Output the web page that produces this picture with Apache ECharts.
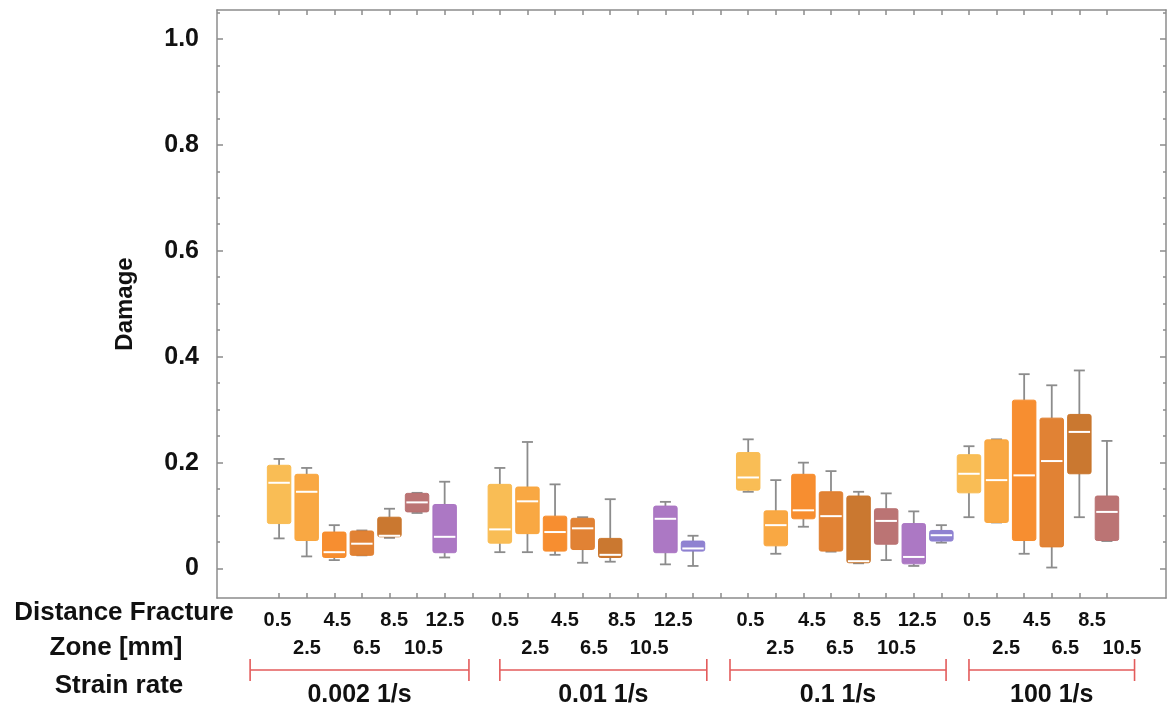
<!DOCTYPE html>
<html>
<head>
<meta charset="utf-8">
<title>Damage vs distance from fracture zone</title>
<script src="https://cdn.jsdelivr.net/npm/echarts@6/dist/echarts.min.js"></script>
<style>
  html, body { margin: 0; padding: 0; background: #ffffff; }
  #chart { width: 1167px; height: 711px; }
</style>
</head>
<body>
<div id="chart"></div>
<script>
// ---- data -------------------------------------------------------------
const strainRates = ['0.002 1/s', '0.01 1/s', '0.1 1/s', '100 1/s'];
const distanceLabels = ['0.5', '2.5', '4.5', '6.5', '8.5', '10.5', '12.5'];

// slot of each box on the x scale (one slot per distance, gaps between groups)
const slots002 = [0, 1, 2, 3, 4, 5, 6];
const slots001 = [8, 9, 10, 11, 12, 14, 15];
const slots01 = [17, 18, 19, 20, 21, 22, 23, 24];
const slots100 = [25, 26, 27, 28, 29, 30];
const groupFirstSlot = [0, 8, 17, 25];

// box statistics: [min, Q1, median, Q3, max]
const stats002 = [
  [0.057, 0.085, 0.162, 0.195, 0.207],
  [0.023, 0.053, 0.145, 0.178, 0.190],
  [0.016, 0.021, 0.031, 0.069, 0.082],
  [0.025, 0.025, 0.047, 0.071, 0.072],
  [0.058, 0.060, 0.062, 0.097, 0.113],
  [0.105, 0.107, 0.125, 0.142, 0.143],
  [0.021, 0.030, 0.060, 0.121, 0.164]
];
const stats001 = [
  [0.031, 0.048, 0.074, 0.159, 0.190],
  [0.031, 0.066, 0.127, 0.154, 0.239],
  [0.026, 0.033, 0.069, 0.099, 0.159],
  [0.011, 0.036, 0.076, 0.095, 0.097],
  [0.013, 0.021, 0.026, 0.057, 0.131],
  [0.008, 0.030, 0.094, 0.118, 0.126],
  [0.005, 0.033, 0.038, 0.052, 0.062]
];
const stats01 = [
  [0.145, 0.148, 0.172, 0.219, 0.244],
  [0.028, 0.043, 0.082, 0.109, 0.167],
  [0.079, 0.094, 0.110, 0.178, 0.200],
  [0.032, 0.033, 0.099, 0.145, 0.184],
  [0.010, 0.011, 0.014, 0.137, 0.145],
  [0.016, 0.046, 0.090, 0.113, 0.142],
  [0.005, 0.009, 0.022, 0.085, 0.108],
  [0.049, 0.052, 0.063, 0.072, 0.082]
];
const stats100 = [
  [0.097, 0.143, 0.179, 0.215, 0.231],
  [0.087, 0.087, 0.167, 0.243, 0.244],
  [0.028, 0.053, 0.176, 0.318, 0.367],
  [0.002, 0.041, 0.203, 0.284, 0.346],
  [0.097, 0.179, 0.258, 0.291, 0.374],
  [0.052, 0.053, 0.107, 0.137, 0.241]
];

// extent of each strain-rate bracket, in slots
const bracketStart = [-1.05, 8.0, 16.34, 25.0];
const bracketEnd = [6.88, 15.5, 24.17, 31.0];

// y tick values
const yMajorTicks = [0, 0.2, 0.4, 0.6, 0.8, 1.0];

// ---- layout & style ---------------------------------------------------
const palette = ['#f9bb50', '#f9a53d', '#f78a29', '#e07e2d', '#c87429',
                 '#b96f6f', '#a974c2', '#8b7ecf'];
const FONT = '"Liberation Sans", Arial, Helvetica, sans-serif';
const AXIS_GREY = '#8c8c8c';
const X_MIN = -2.25, X_MAX = 32.14;
const Y_MIN = -0.0555, Y_MAX = 1.0544;

// where the distance labels sit along the axis (two staggered rows)
const row1Pos = [-0.06, 2.11, 4.17, 6.01, 8.19, 10.36, 12.42, 14.28,
                 17.08, 19.31, 21.30, 23.12, 25.29, 27.46, 29.46];
const row2Pos = [1.01, 3.18, 5.23, 9.28, 11.41, 13.41,
                 18.16, 20.32, 22.37, 26.35, 28.49, 30.54];
const groupLabelCount = [7, 7, 7, 6];

const row1Text = [], row2Text = [];
groupLabelCount.forEach(function (n) {
  for (let i = 0; i < n; i++) {
    (i % 2 === 0 ? row1Text : row2Text).push(distanceLabels[i]);
  }
});
const row1Map = {}, row2Map = {};
row1Pos.forEach(function (p, i) { row1Map[p.toFixed(2)] = row1Text[i]; });
row2Pos.forEach(function (p, i) { row2Map[p.toFixed(2)] = row2Text[i]; });

const slotTicks = [];
for (let s = 0; s <= 30; s++) slotTicks.push(s);
const yMinorTicks = [];
for (let i = 1; i <= 21; i++) {
  const v = +(i * 0.05).toFixed(2);
  if (Math.abs(v * 5 - Math.round(v * 5)) > 1e-6) yMinorTicks.push(v);
}

// rows for the box series: [slot, min, Q1, median, Q3, max, colour]
const boxRows = [];
[[slots002, stats002], [slots001, stats001], [slots01, stats01], [slots100, stats100]]
  .forEach(function (g, gi) {
    g[0].forEach(function (slot, i) {
      boxRows.push([slot].concat(g[1][i], [slot - groupFirstSlot[gi]]));
    });
  });

const bracketRows = strainRates.map(function (_, i) {
  return [bracketStart[i], bracketEnd[i], i];
});

function renderBox(params, api) {
  const x = api.value(0);
  const lo = api.coord([x, api.value(1)]);
  const q1 = api.coord([x, api.value(2)]);
  const md = api.coord([x, api.value(3)]);
  const q3 = api.coord([x, api.value(4)]);
  const hi = api.coord([x, api.value(5)]);
  const color = palette[api.value(6)];
  const w = api.size([1, 0])[0] * 0.85;
  const cap = 11;
  const cx = lo[0];
  const wStyle = { stroke: AXIS_GREY, lineWidth: 1.8 };
  return {
    type: 'group',
    children: [
      { type: 'line', shape: { x1: cx, y1: hi[1], x2: cx, y2: q3[1] }, style: wStyle },
      { type: 'line', shape: { x1: cx, y1: q1[1], x2: cx, y2: lo[1] }, style: wStyle },
      { type: 'line', shape: { x1: cx - cap / 2, y1: hi[1], x2: cx + cap / 2, y2: hi[1] }, style: wStyle },
      { type: 'line', shape: { x1: cx - cap / 2, y1: lo[1], x2: cx + cap / 2, y2: lo[1] }, style: wStyle },
      { type: 'rect',
        shape: { x: cx - w / 2, y: q3[1], width: w, height: Math.max(q1[1] - q3[1], 1), r: 2 },
        style: { fill: color, stroke: color, lineWidth: 1, opacity: 0.97 } },
      { type: 'line', shape: { x1: cx - w / 2 + 1, y1: md[1], x2: cx + w / 2 - 1, y2: md[1] },
        style: { stroke: '#ffffff', lineWidth: 2 } }
    ]
  };
}

function renderBracket(params, api) {
  const a = api.coord([api.value(0), Y_MIN]);
  const b = api.coord([api.value(1), Y_MIN]);
  const y = a[1] + 72;
  const red = '#e35b5b';
  const s = { stroke: red, lineWidth: 1.6 };
  return {
    type: 'group',
    children: [
      { type: 'line', shape: { x1: a[0], y1: y, x2: b[0], y2: y }, style: s },
      { type: 'line', shape: { x1: a[0], y1: y - 11, x2: a[0], y2: y + 11 }, style: s },
      { type: 'line', shape: { x1: b[0], y1: y - 11, x2: b[0], y2: y + 11 }, style: s },
      { type: 'text',
        style: { text: strainRates[api.value(2)], x: (a[0] + b[0]) / 2, y: y + 25,
                 font: 'bold 25px ' + FONT, fill: '#111111',
                 align: 'center', verticalAlign: 'middle' } }
    ]
  };
}

const lineStyle = { color: AXIS_GREY, width: 1.5 };
const frameLine = { show: true, onZero: false, lineStyle: lineStyle };
const noLine = { show: false, onZero: false };

const chart = echarts.init(document.getElementById('chart'));
chart.setOption({
  animation: false,
  backgroundColor: '#ffffff',
  grid: { left: 217, top: 10, width: 949, height: 588, containLabel: false, outerBoundsMode: 'none' },
  xAxis: [
    { type: 'value', position: 'bottom', min: X_MIN, max: X_MAX,
      axisLine: frameLine,
      axisTick: { show: true, inside: true, length: 5, customValues: slotTicks, lineStyle: lineStyle },
      axisLabel: { show: false }, splitLine: { show: false } },
    { type: 'value', position: 'top', min: X_MIN, max: X_MAX,
      axisLine: frameLine,
      axisTick: { show: true, inside: true, length: 5, customValues: slotTicks, lineStyle: lineStyle },
      axisLabel: { show: false }, splitLine: { show: false } },
    { type: 'value', position: 'bottom', min: X_MIN, max: X_MAX,
      axisLine: noLine, axisTick: { show: false }, splitLine: { show: false },
      axisLabel: { show: true, customValues: row1Pos, margin: 12,
        fontFamily: FONT, fontWeight: 'bold', fontSize: 20, color: '#111111',
        formatter: function (v) { return row1Map[v.toFixed(2)] || ''; } } },
    { type: 'value', position: 'bottom', min: X_MIN, max: X_MAX,
      axisLine: noLine, axisTick: { show: false }, splitLine: { show: false },
      axisLabel: { show: true, customValues: row2Pos, margin: 40,
        fontFamily: FONT, fontWeight: 'bold', fontSize: 20, color: '#111111',
        formatter: function (v) { return row2Map[v.toFixed(2)] || ''; } } }
  ],
  yAxis: [
    { type: 'value', position: 'left', min: Y_MIN, max: Y_MAX,
      name: 'Damage', nameLocation: 'middle', nameGap: 80, nameRotate: 90,
      nameTextStyle: { fontFamily: FONT, fontWeight: 'bold', fontSize: 24, color: '#111111' },
      axisLine: frameLine,
      axisTick: { show: true, inside: true, length: 6, customValues: yMajorTicks, lineStyle: lineStyle },
      axisLabel: { show: true, customValues: yMajorTicks, margin: 18,
        fontFamily: FONT, fontWeight: 'bold', fontSize: 25, color: '#111111',
        formatter: function (v) { return Math.abs(v) < 1e-9 ? '0' : v.toFixed(1); } },
      splitLine: { show: false } },
    { type: 'value', position: 'left', min: Y_MIN, max: Y_MAX,
      axisLine: noLine, axisLabel: { show: false }, splitLine: { show: false },
      axisTick: { show: true, inside: true, length: 3, customValues: yMinorTicks, lineStyle: lineStyle } },
    { type: 'value', position: 'right', min: Y_MIN, max: Y_MAX,
      axisLine: frameLine, axisLabel: { show: false }, splitLine: { show: false },
      axisTick: { show: true, inside: true, length: 6, customValues: yMajorTicks, lineStyle: lineStyle } },
    { type: 'value', position: 'right', min: Y_MIN, max: Y_MAX,
      axisLine: noLine, axisLabel: { show: false }, splitLine: { show: false },
      axisTick: { show: true, inside: true, length: 3, customValues: yMinorTicks, lineStyle: lineStyle } }
  ],
  graphic: [
    { type: 'text', x: 124, y: 613,
      style: { text: 'Distance Fracture', font: 'bold 26px ' + FONT, fill: '#111111',
               align: 'center', verticalAlign: 'middle' } },
    { type: 'text', x: 116, y: 648,
      style: { text: 'Zone [mm]', font: 'bold 26px ' + FONT, fill: '#111111',
               align: 'center', verticalAlign: 'middle' } },
    { type: 'text', x: 119, y: 686,
      style: { text: 'Strain rate', font: 'bold 26px ' + FONT, fill: '#111111',
               align: 'center', verticalAlign: 'middle' } }
  ],
  series: [
    { type: 'custom', name: 'Damage', xAxisIndex: 0, yAxisIndex: 0,
      data: boxRows, encode: { x: 0, y: [1, 5] }, renderItem: renderBox, clip: false },
    { type: 'custom', name: 'Strain rate', xAxisIndex: 0, yAxisIndex: 0,
      data: bracketRows, encode: { x: [0, 1] }, renderItem: renderBracket, clip: false,
      silent: true }
  ]
});
</script>
</body>
</html>
